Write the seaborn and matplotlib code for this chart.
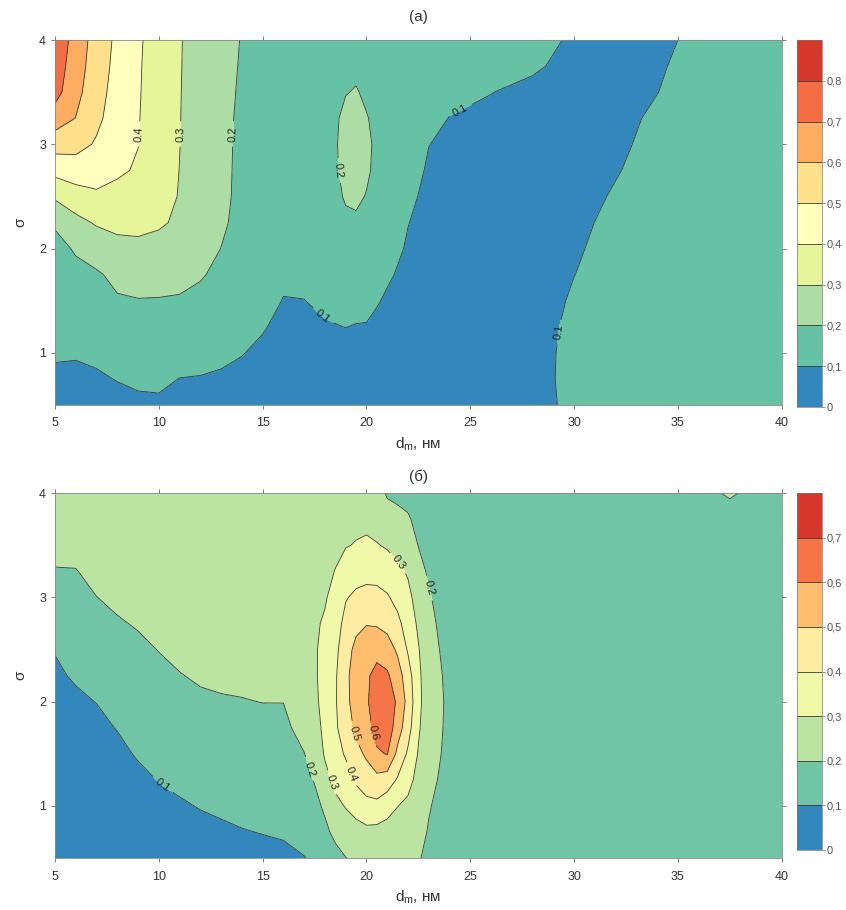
import numpy as np
import matplotlib
matplotlib.use("Agg")
import matplotlib.pyplot as plt
import seaborn as sns

# grid nodes: d_m (nm) along x, sigma along y
sigma = [0.5, 0.75, 1.0, 1.25, 1.5, 1.75, 2.0, 2.25, 2.5, 2.75, 3.0, 3.25, 3.5, 3.75, 4.0]

dm_a = [5, 6, 7, 8, 9, 10, 11, 12, 13, 14, 15, 16, 17, 18, 18.5, 19, 19.5, 20, 20.5,
        21, 22, 23, 24, 26, 28, 30, 32, 34, 36, 38, 40]

# panel (a): one list per d_m column, values from sigma=0.5 up to sigma=4
z_a = [
    [0.06, 0.085, 0.109, 0.128, 0.148, 0.167, 0.175, 0.21, 0.314, 0.43, 0.541, 0.653, 0.735, 0.755, 0.776],
    [0.055, 0.08, 0.108, 0.13, 0.155, 0.18, 0.208, 0.272, 0.358, 0.45, 0.533, 0.598, 0.63, 0.648, 0.659],
    [0.06, 0.09, 0.115, 0.14, 0.165, 0.19, 0.24, 0.31, 0.385, 0.44, 0.49, 0.52, 0.535, 0.548, 0.558],
    [0.075, 0.103, 0.133, 0.163, 0.192, 0.22, 0.275, 0.322, 0.37, 0.415, 0.44, 0.455, 0.465, 0.473, 0.48],
    [0.085, 0.113, 0.14, 0.168, 0.196, 0.24, 0.283, 0.32, 0.36, 0.39, 0.402, 0.405, 0.408, 0.41, 0.413],
    [0.09, 0.112, 0.14, 0.168, 0.195, 0.235, 0.275, 0.31, 0.33, 0.34, 0.345, 0.35, 0.352, 0.355, 0.358],
    [0.085, 0.099, 0.125, 0.155, 0.192, 0.225, 0.26, 0.288, 0.296, 0.299, 0.301, 0.302, 0.303, 0.304, 0.305],
    [0.08, 0.097, 0.12, 0.148, 0.18, 0.207, 0.235, 0.255, 0.262, 0.265, 0.266, 0.267, 0.267, 0.268, 0.268],
    [0.075, 0.092, 0.113, 0.137, 0.16, 0.182, 0.199, 0.215, 0.225, 0.228, 0.23, 0.231, 0.231, 0.232, 0.232],
    [0.075, 0.087, 0.102, 0.12, 0.138, 0.155, 0.165, 0.172, 0.174, 0.175, 0.176, 0.18, 0.187, 0.192, 0.196],
    [0.07, 0.08, 0.09, 0.104, 0.12, 0.135, 0.145, 0.15, 0.155, 0.158, 0.16, 0.163, 0.168, 0.172, 0.176],
    [0.06, 0.068, 0.077, 0.087, 0.098, 0.11, 0.122, 0.132, 0.14, 0.145, 0.148, 0.152, 0.156, 0.16, 0.163],
    [0.055, 0.063, 0.072, 0.083, 0.099, 0.115, 0.13, 0.143, 0.153, 0.16, 0.164, 0.165, 0.163, 0.16, 0.158],
    [0.05, 0.06, 0.07, 0.093, 0.115, 0.135, 0.152, 0.16, 0.165, 0.17, 0.172, 0.17, 0.165, 0.16, 0.155],
    [0.05, 0.06, 0.072, 0.097, 0.122, 0.142, 0.158, 0.17, 0.182, 0.19, 0.193, 0.19, 0.182, 0.172, 0.158],
    [0.05, 0.06, 0.073, 0.101, 0.127, 0.15, 0.168, 0.185, 0.208, 0.222, 0.225, 0.218, 0.197, 0.18, 0.16],
    [0.05, 0.059, 0.071, 0.097, 0.122, 0.15, 0.17, 0.19, 0.212, 0.225, 0.228, 0.22, 0.205, 0.185, 0.162],
    [0.05, 0.058, 0.07, 0.095, 0.125, 0.152, 0.17, 0.18, 0.197, 0.21, 0.213, 0.204, 0.188, 0.172, 0.16],
    [0.05, 0.056, 0.066, 0.083, 0.106, 0.13, 0.15, 0.165, 0.18, 0.185, 0.188, 0.185, 0.175, 0.165, 0.158],
    [0.05, 0.055, 0.062, 0.072, 0.09, 0.11, 0.13, 0.145, 0.155, 0.162, 0.165, 0.165, 0.162, 0.158, 0.155],
    [0.048, 0.05, 0.055, 0.06, 0.068, 0.08, 0.092, 0.102, 0.115, 0.128, 0.137, 0.143, 0.147, 0.15, 0.15],
    [0.045, 0.047, 0.05, 0.053, 0.057, 0.062, 0.068, 0.075, 0.083, 0.092, 0.101, 0.112, 0.122, 0.13, 0.137],
    [0.045, 0.046, 0.048, 0.05, 0.052, 0.055, 0.059, 0.064, 0.07, 0.078, 0.088, 0.099, 0.111, 0.12, 0.127],
    [0.05, 0.05, 0.05, 0.05, 0.05, 0.052, 0.055, 0.058, 0.063, 0.07, 0.08, 0.09, 0.101, 0.11, 0.117],
    [0.06, 0.058, 0.057, 0.056, 0.056, 0.056, 0.057, 0.058, 0.06, 0.064, 0.07, 0.078, 0.088, 0.107, 0.11],
    [0.127, 0.135, 0.133, 0.124, 0.111, 0.099, 0.09, 0.083, 0.078, 0.075, 0.074, 0.075, 0.078, 0.085, 0.096],
    [0.13, 0.135, 0.138, 0.138, 0.136, 0.133, 0.128, 0.118, 0.106, 0.096, 0.088, 0.083, 0.08, 0.08, 0.083],
    [0.13, 0.135, 0.14, 0.14, 0.14, 0.14, 0.138, 0.135, 0.13, 0.124, 0.118, 0.11, 0.099, 0.092, 0.088],
    [0.13, 0.135, 0.14, 0.14, 0.14, 0.14, 0.14, 0.14, 0.138, 0.135, 0.132, 0.13, 0.127, 0.124, 0.112],
    [0.13, 0.133, 0.137, 0.14, 0.14, 0.14, 0.14, 0.14, 0.14, 0.138, 0.136, 0.134, 0.132, 0.13, 0.128],
    [0.128, 0.13, 0.134, 0.137, 0.138, 0.138, 0.138, 0.138, 0.138, 0.137, 0.136, 0.134, 0.132, 0.13, 0.128],
]

dm_b = [5, 6, 7, 8, 9, 10, 11, 12, 13, 14, 15, 16, 17, 17.5, 18, 18.5, 19, 19.5, 20, 20.5,
        21, 21.5, 22, 22.5, 23, 23.5, 24, 25, 30, 35, 37.5, 40]

# panel (b)
z_b = [
    [0.04, 0.045, 0.05, 0.06, 0.068, 0.077, 0.085, 0.093, 0.102, 0.133, 0.165, 0.196, 0.22, 0.232, 0.24],
    [0.04, 0.047, 0.055, 0.063, 0.072, 0.082, 0.092, 0.105, 0.128, 0.152, 0.175, 0.197, 0.222, 0.235, 0.242],
    [0.042, 0.05, 0.058, 0.067, 0.077, 0.088, 0.101, 0.125, 0.15, 0.175, 0.199, 0.222, 0.236, 0.243, 0.246],
    [0.045, 0.055, 0.065, 0.075, 0.087, 0.102, 0.125, 0.148, 0.171, 0.193, 0.215, 0.232, 0.242, 0.247, 0.25],
    [0.05, 0.06, 0.072, 0.087, 0.105, 0.125, 0.145, 0.165, 0.185, 0.206, 0.225, 0.238, 0.246, 0.25, 0.252],
    [0.055, 0.068, 0.082, 0.102, 0.122, 0.142, 0.162, 0.182, 0.202, 0.222, 0.236, 0.245, 0.25, 0.253, 0.254],
    [0.06, 0.075, 0.093, 0.113, 0.133, 0.155, 0.176, 0.197, 0.217, 0.232, 0.242, 0.248, 0.252, 0.254, 0.255],
    [0.065, 0.083, 0.103, 0.125, 0.146, 0.167, 0.188, 0.209, 0.226, 0.238, 0.246, 0.251, 0.254, 0.256, 0.257],
    [0.07, 0.09, 0.11, 0.13, 0.152, 0.173, 0.194, 0.213, 0.229, 0.24, 0.248, 0.253, 0.256, 0.258, 0.258],
    [0.075, 0.097, 0.117, 0.137, 0.157, 0.177, 0.197, 0.215, 0.23, 0.241, 0.249, 0.254, 0.257, 0.258, 0.258],
    [0.08, 0.102, 0.12, 0.14, 0.16, 0.18, 0.201, 0.217, 0.232, 0.243, 0.25, 0.255, 0.258, 0.259, 0.259],
    [0.085, 0.107, 0.125, 0.144, 0.163, 0.182, 0.201, 0.22, 0.236, 0.246, 0.252, 0.257, 0.26, 0.26, 0.26],
    [0.098, 0.12, 0.145, 0.172, 0.198, 0.228, 0.25, 0.262, 0.27, 0.272, 0.27, 0.268, 0.265, 0.262, 0.26],
    [0.11, 0.14, 0.175, 0.205, 0.235, 0.26, 0.278, 0.287, 0.29, 0.288, 0.282, 0.276, 0.27, 0.265, 0.262],
    [0.14, 0.18, 0.215, 0.27, 0.31, 0.325, 0.335, 0.335, 0.325, 0.31, 0.292, 0.282, 0.275, 0.268, 0.262],
    [0.17, 0.222, 0.275, 0.325, 0.365, 0.385, 0.39, 0.388, 0.375, 0.355, 0.33, 0.302, 0.285, 0.272, 0.265],
    [0.198, 0.25, 0.305, 0.36, 0.41, 0.45, 0.472, 0.475, 0.46, 0.43, 0.393, 0.345, 0.295, 0.275, 0.265],
    [0.215, 0.26, 0.34, 0.415, 0.47, 0.52, 0.545, 0.55, 0.525, 0.475, 0.42, 0.36, 0.305, 0.28, 0.268],
    [0.225, 0.275, 0.37, 0.45, 0.515, 0.56, 0.583, 0.585, 0.56, 0.495, 0.43, 0.37, 0.31, 0.285, 0.27],
    [0.225, 0.27, 0.375, 0.47, 0.585, 0.64, 0.665, 0.63, 0.57, 0.49, 0.43, 0.365, 0.305, 0.265, 0.24],
    [0.22, 0.26, 0.34, 0.45, 0.605, 0.66, 0.675, 0.615, 0.545, 0.47, 0.41, 0.35, 0.29, 0.24, 0.19],
    [0.215, 0.25, 0.302, 0.39, 0.475, 0.55, 0.58, 0.545, 0.485, 0.425, 0.37, 0.32, 0.27, 0.225, 0.18],
    [0.21, 0.24, 0.28, 0.33, 0.385, 0.44, 0.47, 0.445, 0.39, 0.355, 0.325, 0.29, 0.255, 0.21, 0.17],
    [0.205, 0.222, 0.245, 0.27, 0.293, 0.312, 0.325, 0.32, 0.306, 0.285, 0.26, 0.23, 0.198, 0.175, 0.16],
    [0.185, 0.195, 0.205, 0.22, 0.235, 0.243, 0.245, 0.243, 0.24, 0.225, 0.208, 0.188, 0.172, 0.16, 0.15],
    [0.17, 0.178, 0.186, 0.196, 0.205, 0.21, 0.212, 0.208, 0.201, 0.19, 0.18, 0.17, 0.162, 0.155, 0.148],
    [0.16, 0.165, 0.17, 0.175, 0.18, 0.183, 0.185, 0.183, 0.178, 0.172, 0.165, 0.16, 0.155, 0.15, 0.145],
    [0.155, 0.158, 0.16, 0.162, 0.164, 0.165, 0.166, 0.165, 0.163, 0.16, 0.157, 0.154, 0.151, 0.148, 0.145],
    [0.15, 0.152, 0.154, 0.155, 0.156, 0.157, 0.157, 0.157, 0.156, 0.155, 0.154, 0.153, 0.152, 0.15, 0.148],
    [0.15, 0.151, 0.152, 0.153, 0.154, 0.155, 0.155, 0.155, 0.155, 0.155, 0.155, 0.156, 0.158, 0.162, 0.17],
    [0.15, 0.151, 0.152, 0.153, 0.154, 0.155, 0.155, 0.155, 0.156, 0.157, 0.158, 0.16, 0.165, 0.178, 0.206],
    [0.15, 0.151, 0.152, 0.153, 0.154, 0.155, 0.155, 0.155, 0.155, 0.155, 0.155, 0.156, 0.158, 0.162, 0.168],
]

levels_a = [0, 0.1, 0.2, 0.3, 0.4, 0.5, 0.6, 0.7, 0.8, 0.9]
levels_b = [0, 0.1, 0.2, 0.3, 0.4, 0.5, 0.6, 0.7, 0.8]
cbar_labels_a = ["0", "0,1", "0,2", "0,3", "0,4", "0,5", "0,6", "0,7", "0,8"]
cbar_labels_b = ["0", "0,1", "0,2", "0,3", "0,4", "0,5", "0,6", "0,7"]

# where the contour labels sit
labels_at_a = [(9.15, 3.1), (11.0, 3.1), (13.6, 3.1), (18.7, 2.75),
               (24.6, 3.3), (17.9, 1.35), (29.2, 1.2)]
labels_at_b = [(10.1, 1.18), (17.2, 1.35), (18.4, 1.23), (19.2, 1.3),
               (19.45, 1.7), (20.35, 1.7), (21.3, 3.3), (23.2, 3.1)]

spectral = ["#3288bd", "#66c2a5", "#abdda4", "#e6f598", "#ffffbf",
            "#fee08b", "#fdae61", "#f46d43", "#d7372a"]

sns.set_theme(style="ticks")
plt.rcParams['font.family'] = ['Liberation Sans', 'DejaVu Sans']
plt.rcParams['mathtext.fontset'] = 'custom'
plt.rcParams['mathtext.rm'] = 'Liberation Sans'

fig = plt.figure(figsize=(8.46, 9.10), dpi=100)
ax_a = fig.add_axes([0.065, 0.555, 0.859, 0.401])
cax_a = fig.add_axes([0.942, 0.553, 0.03, 0.403])
ax_b = fig.add_axes([0.065, 0.057, 0.859, 0.401])
cax_b = fig.add_axes([0.942, 0.066, 0.03, 0.392])

text_col = "#333333"


def draw(ax, cax, dm, cols, levels, cbar_labels, label_pos, title, title_pad):
    z = np.array(cols).T
    pal = sns.blend_palette(spectral, len(levels) - 1)
    cf = ax.contourf(dm, sigma, z, levels=levels, colors=pal)
    cl = ax.contour(dm, sigma, z, levels=levels[1:-1], colors="#3a3a3a",
                    linewidths=0.6)
    ax.clabel(cl, fmt="%.1f", fontsize=8, inline=True, manual=label_pos,
              colors="#222222")

    ax.set_xlim(5, 40)
    ax.set_ylim(0.5, 4)
    ax.set_xticks(range(5, 41, 5))
    ax.set_yticks([1, 2, 3, 4])
    ax.tick_params(direction="out", top=True, right=True, length=3, width=0.6,
                   colors="#666666", labelcolor=text_col, labelsize=9)
    ax.tick_params(axis="x", pad=6)
    for sp in ax.spines.values():
        sp.set_color("#888888")
        sp.set_linewidth(0.6)
    ax.set_xlabel("d$_\\mathrm{m}$, нм", fontsize=11, color=text_col, labelpad=4)
    ax.set_ylabel("σ", fontsize=11, color=text_col, labelpad=8)
    ax.set_title(title, fontsize=11, color=text_col, pad=title_pad)

    cb = fig.colorbar(cf, cax=cax, ticks=levels[:-1])
    cb.add_lines(cl)
    cb.ax.set_yticklabels(cbar_labels)
    cb.ax.tick_params(length=2, width=0.5, labelsize=8, colors="#666666",
                      labelcolor="#555555", pad=1)
    cb.outline.set_linewidth(0.5)
    cb.outline.set_edgecolor("#777777")


draw(ax_a, cax_a, dm_a, z_a, levels_a, cbar_labels_a, labels_at_a, "(а)", 14)
draw(ax_b, cax_b, dm_b, z_b, levels_b, cbar_labels_b, labels_at_b, "(б)", 9)

fig.savefig("out.png", dpi=100)
